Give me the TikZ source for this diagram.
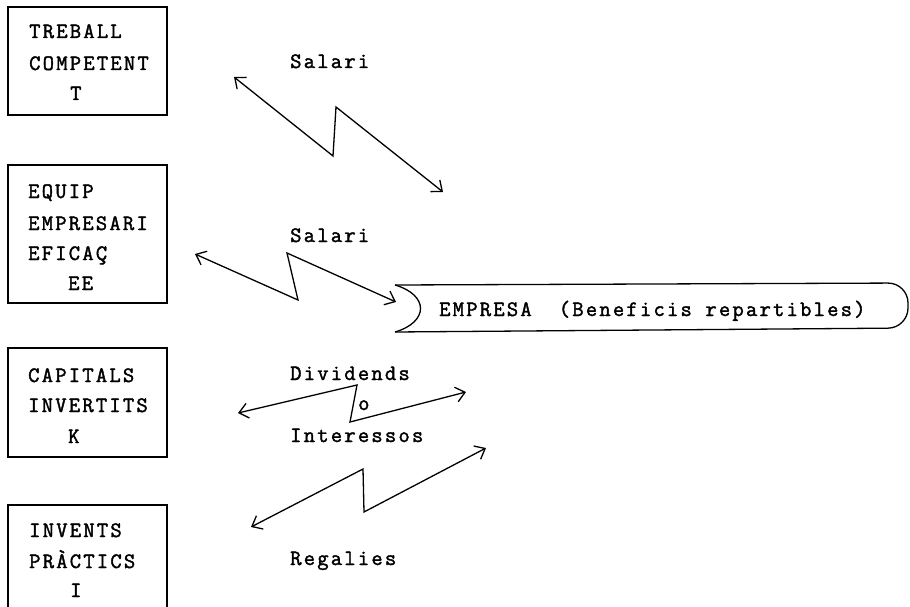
\documentclass[tikz,border=0pt]{standalone}
\usepackage{fontspec}
\newfontfamily\tw[LetterSpace=10,FakeBold=1.8]{Latin Modern Mono}
\usetikzlibrary{arrows.meta}
\tikzset{
  boxst/.style={draw, line width=1.3pt, inner sep=0pt, minimum width=159pt},
  txt/.style={anchor=base west, inner sep=0pt, font=\tw\fontsize{22}{26}\selectfont},
  zig/.style={line width=1.3pt, line join=miter,
    {Straight Barb[length=9pt,width=15pt,line width=1.3pt]}-{Straight Barb[length=9pt,width=15pt,line width=1.3pt]}},
  outl/.style={line width=1.3pt}
}
\begin{document}
\begin{tikzpicture}[x=1pt,y=-1pt]
\clip (0,0) rectangle (910,607);
\useasboundingbox (0,0) rectangle (910,607);
% boxes
\node[boxst, minimum height=108pt] (bT) at (87.5,61) {};
\node[boxst, minimum height=138pt] (bE) at (87.5,234) {};
\node[boxst, minimum height=109pt] (bK) at (87.5,402.5) {};
\node[boxst, minimum height=135pt] (bI) at (87.5,572.5) {};
% box texts
\node[txt] (t1) at (29,38) {TREBALL};
\node[txt] (t2) at (29,70) {COMPETENT};
\node[txt] (t3) at (70,100) {T};
\node[txt] (e1) at (28,198) {EQUIP};
\node[txt] (e2) at (28,230) {EMPRESARI};
\node[txt] (e3) at (28,260) {EFICAÇ};
\node[txt] (e4) at (68,290) {EE};
\node[txt] (k1) at (28,382) {CAPITALS};
\node[txt] (k2) at (28,412) {INVERTITS};
\node[txt] (k3) at (68,443) {K};
\node[txt] (i1) at (29,537) {INVENTS};
\node[txt] (i2) at (29,568) {PRÀCTICS};
\node[txt] (i3) at (70,597) {I};
% labels
\node[txt] (s1) at (290,68) {Salari};
\node[txt] (s2) at (290,242) {Salari};
\node[txt] (d1) at (290,380) {Dividends};
\node[txt] (o1) at (358,410) {o};
\node[txt] (in1) at (290,442) {Interessos};
\node[txt] (r1) at (290,565) {Regalies};
% empresa shape
\coordinate (emTL) at (395,285);
\coordinate (emBL) at (395,332);
\draw[outl, rounded corners=20pt] (emTL) -- (908,283) -- (908,328) -- (emBL);
\draw[outl] (emBL) .. controls (429,322) and (429,295) .. (emTL);
\node[txt] (emp) at (439,316) {EMPRESA\ \ (Beneficis repartibles)};
% zigzag arrows
\coordinate (a1s) at (234,77);
\coordinate (a1b) at (333,156);
\coordinate (a1t) at (336,107);
\coordinate (a1e) at (443,192);
\draw[zig] (a1s) -- (a1b) -- (a1t) -- (a1e);
\coordinate (a2s) at (195,254);
\coordinate (a2b) at (298,300);
\coordinate (a2t) at (287,253);
\coordinate (a2e) at (396,302);
\draw[zig] (a2s) -- (a2b) -- (a2t) -- (a2e);
\coordinate (a3s) at (238,413);
\coordinate (a3t) at (357,385);
\coordinate (a3b) at (350,422);
\coordinate (a3e) at (466,392);
\draw[zig] (a3s) -- (a3t) -- (a3b) -- (a3e);
\coordinate (a4s) at (251,527);
\coordinate (a4t) at (363,469);
\coordinate (a4b) at (364,512);
\coordinate (a4e) at (486,448);
\draw[zig] (a4s) -- (a4t) -- (a4b) -- (a4e);
\end{tikzpicture}
\end{document}
